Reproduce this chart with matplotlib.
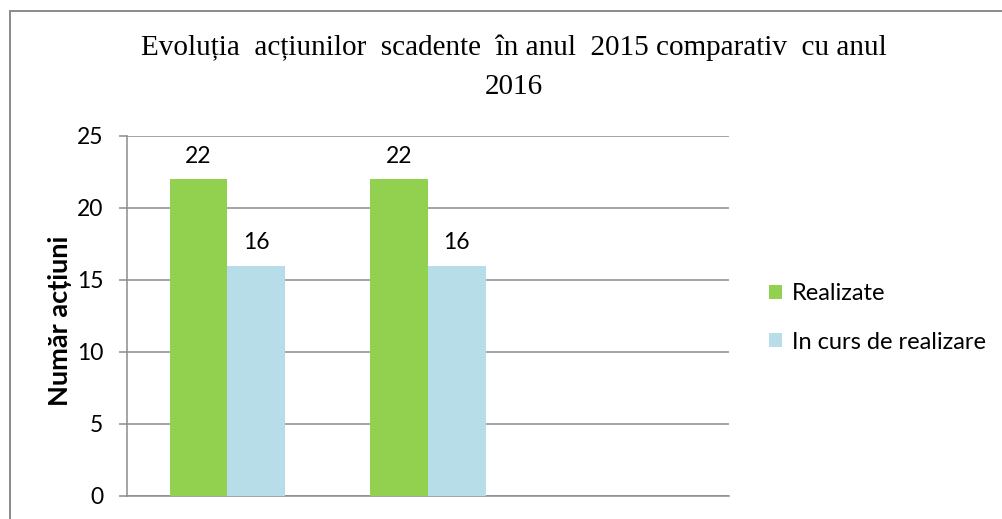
import matplotlib.pyplot as plt
from matplotlib.patches import Rectangle
import numpy as np

# data
categories = ["2015", "2016", ""]
realizate = [22, 22, np.nan]
in_curs = [16, 16, np.nan]
series_names = ["Realizate", "In curs de realizare"]
yticks = [0, 5, 10, 15, 20, 25]

GREEN = "#92d050"
BLUE = "#b7dde8"
GRID = "#8c8c8c"

plt.rcParams["font.family"] = ["Lato", "DejaVu Sans"]

fig = plt.figure(figsize=(10.02, 5.19), dpi=100)
fig.patch.set_facecolor("white")

# outer chart frame (cropped on right and bottom)
fig.patches.append(Rectangle((10 / 1002, -0.1), 1.2, (519 - 11) / 519 + 0.1,
                             transform=fig.transFigure, fill=False,
                             edgecolor="#8a8a8a", linewidth=1.4))

ax = fig.add_axes([127 / 1002, (519 - 496) / 519, 602 / 1002, 360 / 519])

x = np.arange(len(categories))
w = 0.287
b1 = ax.bar(x - w / 2, realizate, w, color=GREEN, label=series_names[0], zorder=3)
b2 = ax.bar(x + w / 2, in_curs, w, color=BLUE, label=series_names[1], zorder=3)

for bars, vals in ((b1, realizate), (b2, in_curs)):
    for bar, v in zip(bars, vals):
        if np.isfinite(v):
            ax.annotate(f"{v:g}", (bar.get_x() + bar.get_width() / 2, v),
                        xytext=(0, 12), textcoords="offset points",
                        ha="center", va="baseline", fontsize=16.5)

ax.set_xlim(-0.5, 2.5)
ax.set_ylim(0, 25)
ax.set_yticks(yticks)
ax.yaxis.grid(True, color=GRID, linewidth=1.1, zorder=0)
ax.set_xticks([])
ax.tick_params(axis="y", length=6, width=1.1, color=GRID, pad=11, labelsize=16.5)
for s in ("top", "right"):
    ax.spines[s].set_visible(False)
for s in ("left", "bottom"):
    ax.spines[s].set_color(GRID)
    ax.spines[s].set_linewidth(1.1)

ax.set_ylabel("Număr acțiuni", fontsize=19.5, fontweight="bold")
ax.yaxis.label.set_va("center")
ax.yaxis.set_label_coords((60 - 127) / 602, 0.486)

fig.text(0.513, (519 - 67) / 519,
         "Evoluția  acțiunilor  scadente  în anul  2015 comparativ  cu anul\n2016",
         ha="center", va="center", multialignment="center",
         family=["Liberation Serif", "DejaVu Serif"], fontsize=21, linespacing=1.65)

leg = ax.legend(loc="center left", bbox_to_anchor=(769 / 1002, (519 - 318) / 519),
                bbox_transform=fig.transFigure, frameon=False, fontsize=17,
                handlelength=0.55, handleheight=0.55, handletextpad=0.42,
                labelspacing=1.16, borderpad=0, borderaxespad=0)

fig.savefig("out.png", dpi=100)
